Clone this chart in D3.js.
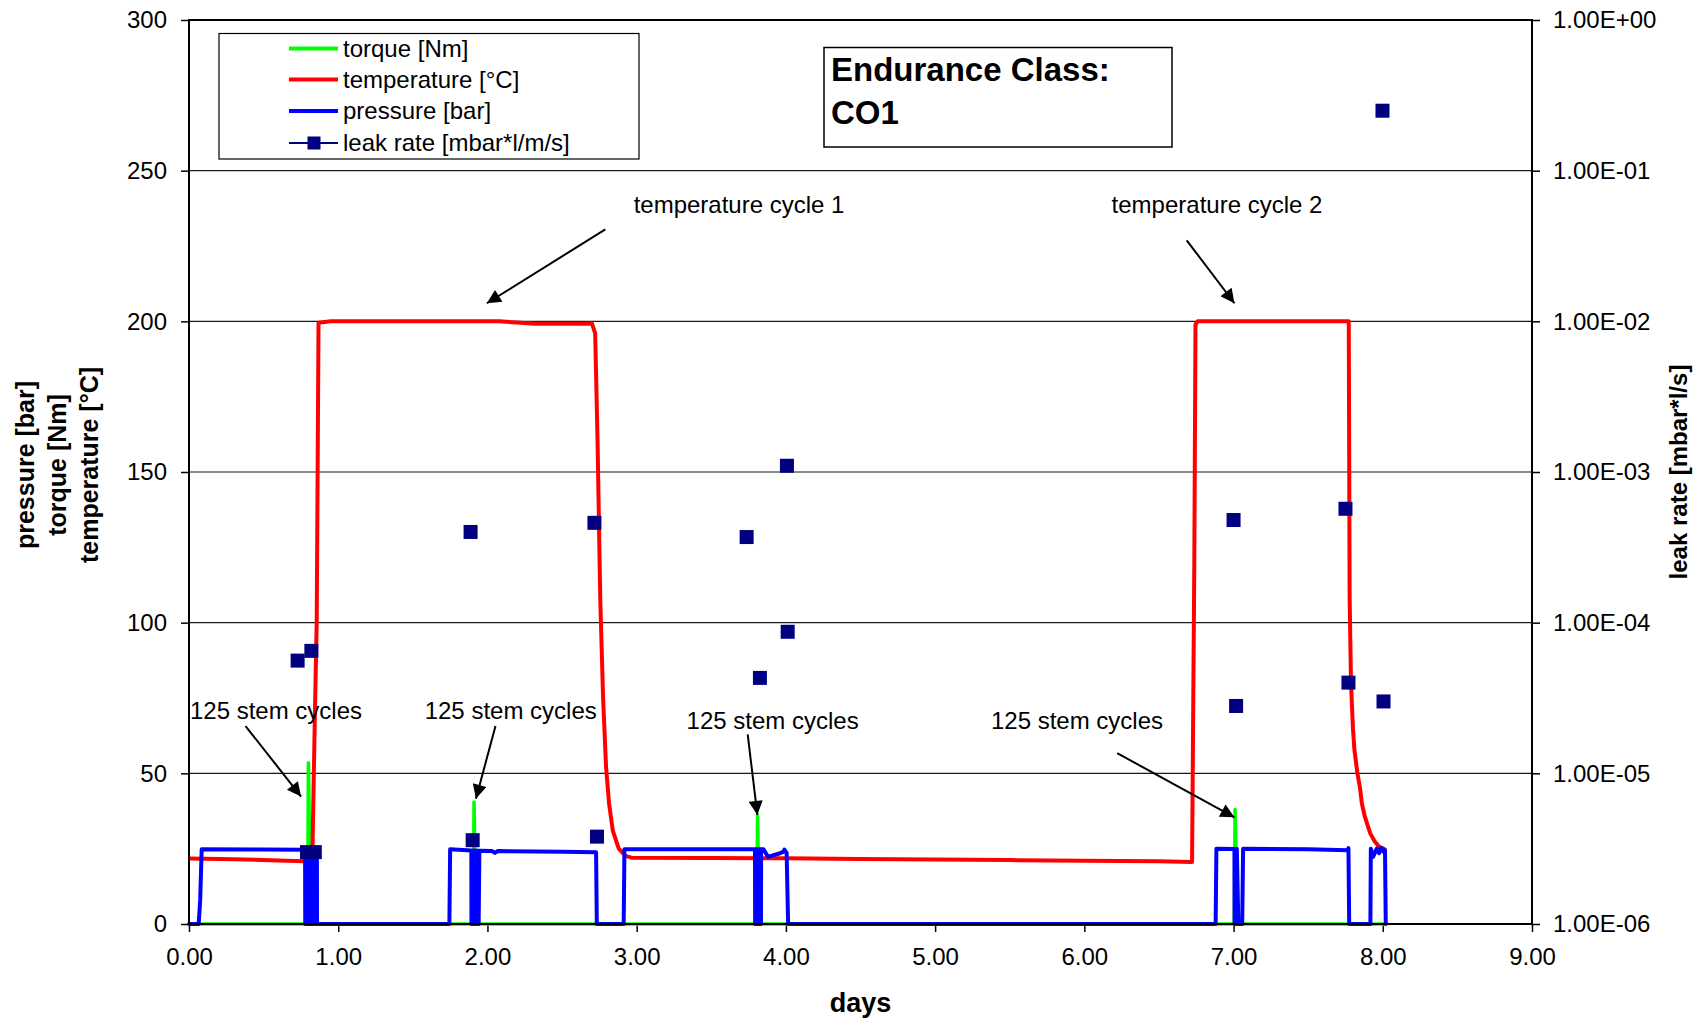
<!DOCTYPE html>
<html><head><meta charset="utf-8">
<script src="https://cdn.jsdelivr.net/npm/d3@7"></script>
<style>
html,body{margin:0;padding:0;background:#fff;}
svg{display:block;font-family:"Liberation Sans",Arial,sans-serif;}
</style></head><body>
<svg id="chart" width="1704" height="1021"></svg>
<script>
// ---- series data (time in days) ----
const dayTicks = [0, 1, 2, 3, 4, 5, 6, 7, 8, 9];
const leftTicks = [0, 50, 100, 150, 200, 250, 300];
const rightTicks = [1e-6, 1e-5, 1e-4, 1e-3, 1e-2, 1e-1, 1];

const torqueDays = [0, 0.795, 0.800, 0.803, 0.808, 0.812, 1.905, 1.910, 1.913, 1.918,
  3.805, 3.810, 3.813, 3.818, 7.005, 7.010, 7.014, 7.020, 8.020];
const torqueNm = [0, 0, 53.5, 45, 25, 0, 0, 40.5, 33, 0,
  0, 36, 30, 0, 0, 38, 30, 0, 0];

const tempDays = [0, 0.30, 0.60, 0.78, 0.818, 0.828, 0.842, 0.856, 0.862, 0.868, 0.95,
  1.50, 2.08, 2.20, 2.32, 2.60, 2.70, 2.722, 2.738, 2.756, 2.775, 2.795, 2.815,
  2.840, 2.880, 2.925, 2.965, 3.50, 4.00, 4.50, 5.00, 5.50, 6.00, 6.50, 6.722,
  6.737, 6.745, 6.760, 7.00, 7.50, 7.772, 7.778, 7.787, 7.800, 7.810, 7.830,
  7.846, 7.860, 7.880, 7.900, 7.917, 7.945, 7.976, 8.000, 8.019];
const tempC = [21.7, 21.5, 21.1, 20.8, 21.0, 26, 65, 101, 150, 199.5, 200,
  200, 200, 199.6, 199.2, 199.2, 199.3, 196, 160, 108, 75, 52, 40,
  31, 25, 22.6, 22.0, 21.9, 21.8, 21.6, 21.4, 21.2, 21.0, 20.8, 20.6,
  120, 199, 200, 200, 200, 200, 108, 80, 65, 57.8, 50,
  45.6, 40, 35.6, 32.5, 30, 27.5, 25.6, 25.2, 24.5];

const pressureDays = [0, 0.065, 0.075, 0.085, 0.50, 0.778,
  0.779, 0.786, 0.787, 0.794, 0.795, 0.802, 0.803, 0.810, 0.811, 0.818, 0.819,
  0.826, 0.827, 0.834, 0.835, 0.842, 0.843, 0.850, 0.851, 0.857, 0.858,
  1.745, 1.750, 1.892,
  1.893, 1.900, 1.901, 1.908, 1.909, 1.916, 1.917, 1.924, 1.925, 1.932, 1.933,
  1.940, 1.941, 1.946,
  2.030, 2.050, 2.070, 2.500, 2.728, 2.733, 2.913, 2.918, 3.793,
  3.794, 3.801, 3.802, 3.809, 3.810, 3.817, 3.818, 3.825, 3.826, 3.833, 3.834, 3.838,
  3.850, 3.880, 3.950, 3.985, 3.990, 4.005, 4.015,
  6.880, 6.885, 7.006, 7.007, 7.020, 7.022, 7.032, 7.058, 7.064, 7.500, 7.765,
  7.770, 7.775, 7.917, 7.920, 7.935, 7.960, 7.975, 7.990, 8.005, 8.015, 8.020];
const pressureBar = [0, 0, 8, 24.8, 24.7, 24.6,
  0, 0, 24.6, 24.6, 0, 0, 24.6, 24.6, 0, 0, 24.6,
  24.6, 0, 0, 24.6, 24.6, 0, 0, 24.6, 24.6, 0,
  0, 24.8, 24.4,
  0, 0, 24.4, 24.4, 0, 0, 24.4, 24.4, 0, 0, 24.3,
  24.3, 0, 24.3,
  24.2, 23.6, 24.2, 24.0, 23.8, 0, 0, 24.8, 24.8,
  0, 0, 24.8, 24.8, 0, 0, 24.8, 24.8, 0, 0, 24.8, 24.8,
  24.8, 22.3, 23.3, 24.0, 24.7, 23.6, 0,
  0, 25.0, 24.9, 0, 0, 25.0, 0, 0, 25.0, 24.8, 24.5,
  25.2, 0, 0, 25.0, 22.3, 25.0, 23.5, 25.2, 24.0, 24.5, 0];

const leakDays = [0.728, 0.820, 0.791, 0.843, 1.887, 1.901, 2.717, 2.734, 3.737, 3.826,
  4.007, 4.012, 7.000, 7.017, 7.750, 7.770, 8.005, 7.998];
const leakRate = [5.6e-5, 6.5e-5, 3.0e-6, 3.0e-6, 4.0e-4, 3.6e-6, 4.6e-4, 3.8e-6, 3.7e-4, 4.3e-5,
  1.1e-3, 8.7e-5, 4.8e-4, 2.8e-5, 5.7e-4, 4.0e-5, 3.0e-5, 0.25];

const seriesNames = ["torque [Nm]", "temperature [°C]", "pressure [bar]", "leak rate [mbar*l/m/s]"];

// annotation texts and arrows, in (days, left-axis value) coordinates
const noteTexts = ["temperature cycle 1", "temperature cycle 2",
  "125 stem cycles", "125 stem cycles", "125 stem cycles", "125 stem cycles"];
const noteAt = [[3.686, 238.9], [6.889, 238.9], [0.583, 70.8], [2.156, 70.8], [3.911, 67.5], [5.951, 67.5]];
const arrowFrom = [[2.790, 230.5], [6.686, 226.9], [0.379, 65.7], [2.054, 65.7], [3.744, 62.9], [6.220, 56.7]];
const arrowTo = [[1.996, 206.0], [7.006, 206.0], [0.751, 42.3], [1.923, 41.6], [3.809, 36.2], [7.006, 35.4]];

// ---- layout ----
const L = 189, R = 1532, T = 20, B = 924;
const svg = d3.select("#chart");
const x = d3.scaleLinear().domain([0, 9]).range([L, R]);
const yL = d3.scaleLinear().domain([0, 300]).range([B, T]);
const yR = d3.scaleLog().domain([1e-6, 1]).range([B, T]);

const colors = { torque: "#00ff00", temp: "#ff0000", pressure: "#0000ff", leak: "#000080" };

// gridlines
svg.append("g").selectAll("line").data(leftTicks.filter(v => v > 0 && v < 300)).join("line")
  .attr("x1", L).attr("x2", R).attr("y1", d => yL(d)).attr("y2", d => yL(d))
  .attr("stroke", "#1a1a1a").attr("stroke-width", 1.2);

// axes
function styleAxis(g) {
  g.select(".domain").remove();
  g.selectAll(".tick line").attr("stroke", "#000").attr("stroke-width", 1.5);
  g.selectAll(".tick text").attr("fill", "#000").style("font-size", "24px")
    .style("font-family", '"Liberation Sans", Arial, sans-serif');
}
svg.append("g").attr("transform", `translate(${L},0)`)
  .call(d3.axisLeft(yL).tickValues(leftTicks).tickFormat(d3.format("d")).tickSize(8).tickPadding(14))
  .call(styleAxis);
svg.append("g").attr("transform", `translate(0,${B})`)
  .call(d3.axisBottom(x).tickValues(dayTicks).tickFormat(d3.format(".2f")).tickSize(8).tickPadding(16))
  .call(styleAxis);
const sci = v => {
  const e = Math.round(Math.log10(v));
  const m = v / Math.pow(10, e);
  return m.toFixed(2) + "E" + (e < 0 ? "-" : "+") + String(Math.abs(e)).padStart(2, "0");
};
svg.append("g").attr("transform", `translate(${R},0)`)
  .call(d3.axisRight(yR).tickValues(rightTicks).tickFormat(sci).tickSize(8).tickPadding(13))
  .call(styleAxis);

// series lines
const line = (xs, ys) => d3.line().x(i => x(xs[i])).y(i => yL(ys[i]))(d3.range(xs.length));
svg.append("path").attr("d", line(torqueDays, torqueNm)).attr("fill", "none")
  .attr("stroke", colors.torque).attr("stroke-width", 3.5).attr("stroke-linejoin", "round");
svg.append("path").attr("d", line(tempDays, tempC)).attr("fill", "none")
  .attr("stroke", colors.temp).attr("stroke-width", 4).attr("stroke-linejoin", "round");
svg.append("path").attr("d", line(pressureDays, pressureBar)).attr("fill", "none")
  .attr("stroke", colors.pressure).attr("stroke-width", 4).attr("stroke-linejoin", "round")
  .attr("stroke-linecap", "round");

// leak rate markers (right log axis)
const sq = 14;
svg.append("g").selectAll("rect").data(d3.range(leakDays.length)).join("rect")
  .attr("x", i => x(leakDays[i]) - sq / 2).attr("y", i => yR(leakRate[i]) - sq / 2)
  .attr("width", sq).attr("height", sq).attr("fill", colors.leak);

// plot frame
svg.append("rect").attr("x", L).attr("y", T).attr("width", R - L).attr("height", B - T)
  .attr("fill", "none").attr("stroke", "#000").attr("stroke-width", 2);

// axis titles
svg.append("text").attr("x", (L + R) / 2).attr("y", 1012).attr("text-anchor", "middle")
  .style("font-size", "27px").style("font-weight", "bold").text("days");
const leftTitle = ["pressure [bar]", "torque [Nm]", "temperature [°C]"];
const leftTitleX = [25, 57, 89];
leftTitle.forEach((t, i) => {
  svg.append("text").attr("transform", `translate(${leftTitleX[i]},465) rotate(-90)`)
    .attr("text-anchor", "middle").attr("dy", "0.35em")
    .style("font-size", "25px").style("font-weight", "bold").text(t);
});
svg.append("text").attr("transform", "translate(1679,472) rotate(-90)")
  .attr("text-anchor", "middle").attr("dy", "0.35em")
  .style("font-size", "24px").style("font-weight", "bold").text("leak rate [mbar*l/s]");

// annotations
svg.append("defs").append("marker").attr("id", "arrowhead")
  .attr("viewBox", "0 0 10 10").attr("refX", 10).attr("refY", 5)
  .attr("markerWidth", 9).attr("markerHeight", 7).attr("markerUnits", "strokeWidth")
  .attr("orient", "auto")
  .append("path").attr("d", "M0,0 L10,5 L0,10 Z").attr("fill", "#000");
noteTexts.forEach((t, i) => {
  svg.append("text").attr("x", x(noteAt[i][0])).attr("y", yL(noteAt[i][1]))
    .attr("text-anchor", "middle").attr("dy", "0.35em").style("font-size", "24px").text(t);
  svg.append("line")
    .attr("x1", x(arrowFrom[i][0])).attr("y1", yL(arrowFrom[i][1]))
    .attr("x2", x(arrowTo[i][0])).attr("y2", yL(arrowTo[i][1]))
    .attr("stroke", "#000").attr("stroke-width", 2).attr("marker-end", "url(#arrowhead)");
});

// legend
const lg = svg.append("g");
lg.append("rect").attr("x", 219).attr("y", 33.5).attr("width", 420).attr("height", 125.5)
  .attr("fill", "#fff").attr("stroke", "#000").attr("stroke-width", 1.2);
const legendColors = [colors.torque, colors.temp, colors.pressure, colors.leak];
const rowY = [48.5, 79.5, 111, 143];
seriesNames.forEach((n, i) => {
  lg.append("line").attr("x1", 289).attr("x2", 338).attr("y1", rowY[i]).attr("y2", rowY[i])
    .attr("stroke", legendColors[i]).attr("stroke-width", i === 3 ? 2 : 4);
  if (i === 3) {
    lg.append("rect").attr("x", 314 - 6.5).attr("y", rowY[i] - 6.5).attr("width", 13).attr("height", 13)
      .attr("fill", colors.leak);
  }
  lg.append("text").attr("x", 343).attr("y", rowY[i]).attr("dy", "0.35em")
    .style("font-size", "24px").text(n);
});

// class box
svg.append("rect").attr("x", 824).attr("y", 47.5).attr("width", 348).attr("height", 99.5)
  .attr("fill", "#fff").attr("stroke", "#000").attr("stroke-width", 1.5);
svg.append("text").attr("x", 831).attr("y", 81).style("font-size", "33px").style("font-weight", "bold")
  .text("Endurance Class:");
svg.append("text").attr("x", 831).attr("y", 123.5).style("font-size", "33px").style("font-weight", "bold")
  .text("CO1");
</script>
</body></html>
